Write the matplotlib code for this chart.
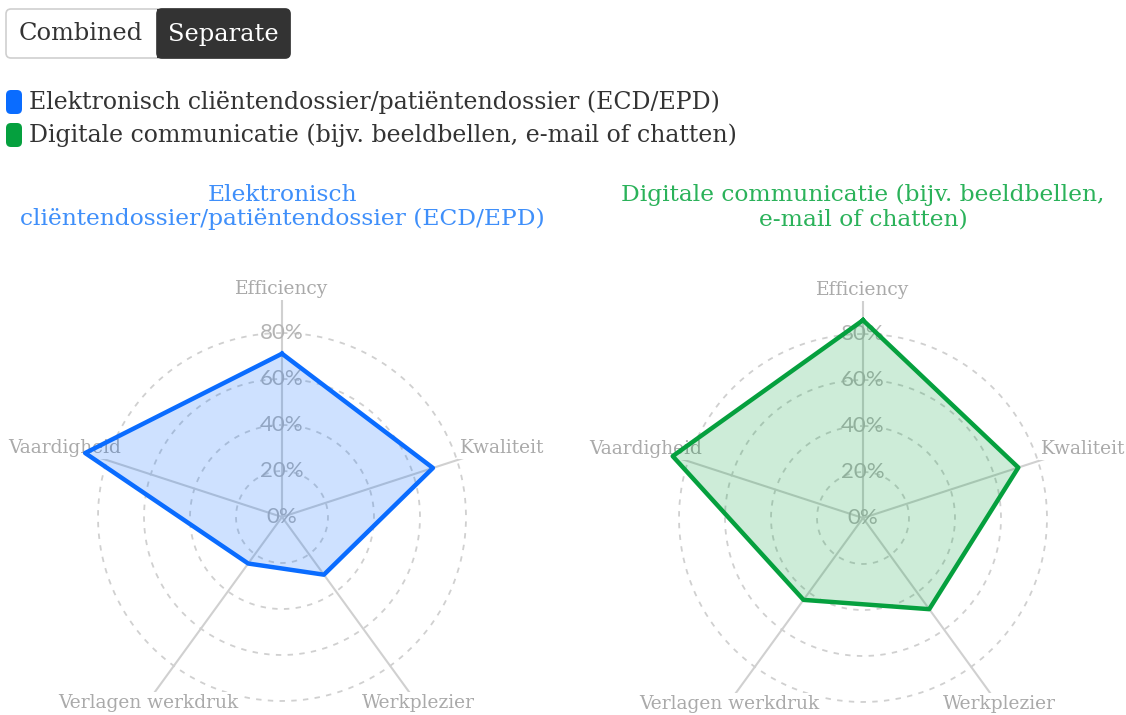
import numpy as np
import matplotlib
matplotlib.use("Agg")
import matplotlib.pyplot as plt
from matplotlib.patches import FancyBboxPatch, Rectangle

# data (percentages)
categories = ["Efficiency", "Kwaliteit", "Werkplezier", "Verlagen werkdruk", "Vaardigheid"]
ecd_values = [71, 69, 31, 25, 90]
digi_values = [86, 71, 49, 44, 87]
ticks = [0, 20, 40, 60, 80]

series_names = ["Elektronisch cliëntendossier/patiëntendossier (ECD/EPD)",
                "Digitale communicatie (bijv. beeldbellen, e-mail of chatten)"]
titles = ["Elektronisch\ncliëntendossier/patiëntendossier (ECD/EPD)",
          "Digitale communicatie (bijv. beeldbellen,\ne-mail of chatten)"]

BLUE = "#0a6cff"
GREEN = "#05a03e"
TITLE_COLORS = ["#3f8ffa", "#2bb25a"]
GRID = "#d0d0d0"
LABEL = "#aaaaaa"
SERIF = "DejaVu Serif"

W, H = 1126, 715
fig = plt.figure(figsize=(W / 100, H / 100), dpi=100)

# background axes in pixel coordinates for buttons / legend / titles
bg = fig.add_axes([0, 0, 1, 1], zorder=0)
bg.set_xlim(0, W)
bg.set_ylim(H, 0)
bg.axis("off")

# toggle buttons
bg.add_patch(FancyBboxPatch((6, 9), 284, 49, boxstyle="round,pad=0,rounding_size=5",
                            fc="white", ec="#cfcfcf", lw=1.2))
bg.add_patch(FancyBboxPatch((157, 9), 133, 49, boxstyle="round,pad=0,rounding_size=5",
                            fc="#333333", ec="#333333", lw=1.2))
bg.add_patch(Rectangle((157, 9), 10, 49, fc="#333333", ec="none"))
bg.text(81, 34, "Combined", ha="center", va="center", fontsize=17.4, family=SERIF, color="#333333")
bg.text(223, 34, "Separate", ha="center", va="center", fontsize=17.4, family=SERIF, color="white")

# legend
for i, (name, col) in enumerate(zip(series_names, [BLUE, GREEN])):
    yc = 102 + i * 33
    bg.add_patch(FancyBboxPatch((6, yc - 12), 16, 24, boxstyle="round,pad=0,rounding_size=5",
                                fc=col, ec="none"))
    bg.text(29, yc, name, ha="left", va="center", fontsize=17, family=SERIF, color="#333333")

RMAX = 95
PX = 2.3  # pixels per percent
size = 2 * RMAX * PX
centers = [(282, 517), (863, 518)]
angles = np.linspace(0, 2 * np.pi, len(categories), endpoint=False)

# label offsets from centre in pixels (dx, dy, ha)
label_pos = [(0, -228, "center"), (178, -69, "left"), (136, 186, "center"),
             (-134, 186, "center"), (-161, -69, "right")]

for k, (vals, col) in enumerate([(ecd_values, BLUE), (digi_values, GREEN)]):
    cx, cy = centers[k]
    ax = fig.add_axes([(cx - size / 2) / W, (H - cy - size / 2) / H, size / W, size / H],
                      projection="polar", zorder=1)
    ax.set_theta_zero_location("N")
    ax.set_theta_direction(-1)
    ax.set_ylim(0, RMAX)
    ax.grid(False)
    ax.set_xticks([])
    ax.set_yticks([])
    ax.spines["polar"].set_visible(False)
    ax.patch.set_alpha(0)

    circ = np.linspace(0, 2 * np.pi, 300)
    for t in ticks[1:]:
        ax.plot(circ, np.full_like(circ, t), color=GRID, lw=1.3, ls=(0, (3, 3.5)), zorder=1)
    for a in angles:
        ax.plot([a, a], [0, RMAX], color=GRID, lw=1.5, zorder=1)

    for t in ticks:
        ax.text(0, t, f"{t}%", ha="center", va="center", fontsize=16, family="Lato",
                color="#b4b4b4", zorder=2)

    for name, (dx, dy, ha) in zip(categories, label_pos):
        ax.text(0.5 + dx / size, 0.5 - dy / size, name, transform=ax.transAxes,
                ha=ha, va="center", fontsize=13.4, family=SERIF, color=LABEL, zorder=2,
                bbox=dict(fc="white", ec="none", pad=1.5))

    th = np.append(angles, angles[0])
    rv = np.append(vals, vals[0])
    ax.fill(th, rv, color=col, alpha=0.2, lw=0, zorder=3)
    ax.plot(th, rv, color=col, lw=3.2, zorder=4)

    bg.text(cx, 207, titles[k], ha="center", va="center", fontsize=16.8, family=SERIF,
            color=TITLE_COLORS[k], linespacing=1.12)

fig.savefig("out.png", dpi=100)
